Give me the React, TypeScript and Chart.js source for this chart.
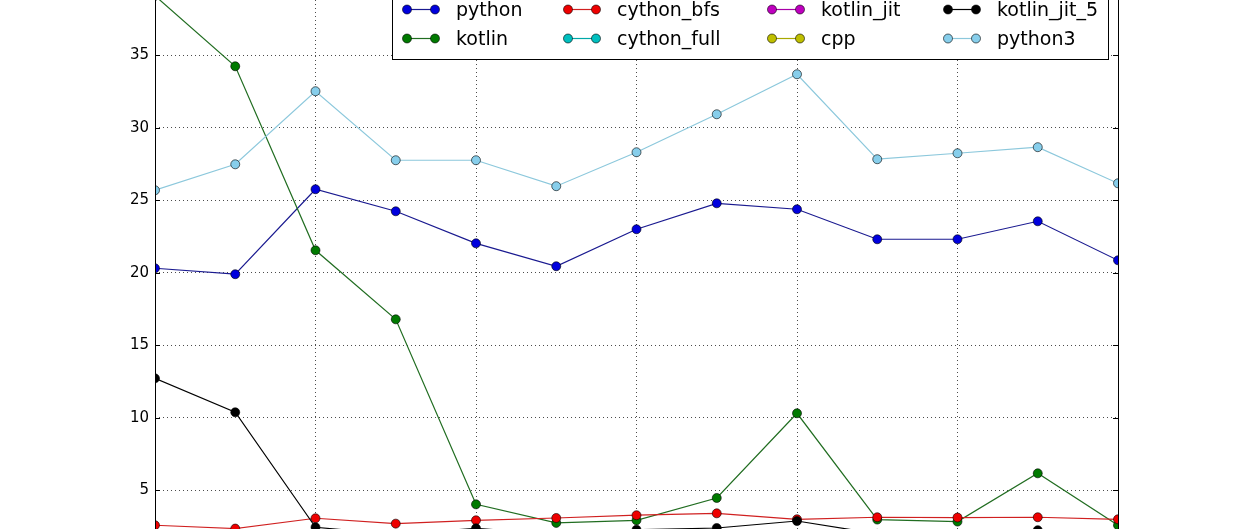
import { useEffect, useRef } from 'react';
import { Chart, registerables } from 'chart.js';
import type { Plugin } from 'chart.js';

Chart.register(...registerables);

// run number on the x axis
const runIndex = [0, 1, 2, 3, 4, 5, 6, 7, 8, 9, 10, 11, 12];
const xTicks = [0, 2, 4, 6, 8, 10, 12];
const yTicks = [5, 10, 15, 20, 25, 30, 35];

const pythonTimes = [20.31, 19.9, 25.76, 24.24, 22.03, 20.45, 23.0, 24.79, 24.38, 22.31, 22.31, 23.55, 20.86];
const kotlinTimes = [39.1, 34.24, 21.55, 16.79, 4.03, 2.75, 2.93, 4.47, 10.31, 2.98, 2.84, 6.17, 2.59];
const cythonBfsTimes = [2.59, 2.36, 3.07, 2.7, 2.93, 3.09, 3.28, 3.41, 3.0, 3.14, 3.12, 3.14, 3.0];
const cythonFullTimes = [1.2, 1.1, 1.3, 1.2, 1.25, 1.3, 1.2, 1.35, 1.3, 1.2, 1.25, 1.3, 1.2];
const kotlinJitTimes = [1.8, 1.6, 1.5, 1.4, 1.5, 1.45, 1.5, 1.6, 1.7, 1.4, 1.45, 1.5, 1.4];
const cppTimes = [0.45, 0.4, 0.42, 0.41, 0.43, 0.42, 0.44, 0.45, 0.43, 0.41, 0.42, 0.43, 0.42];
const kotlinJit5Times = [12.72, 10.38, 2.45, 1.95, 2.38, 1.95, 2.28, 2.4, 2.88, 2.0, 1.95, 2.25, 1.9];
const python3Times = [25.69, 27.48, 32.52, 27.76, 27.76, 25.97, 28.31, 30.93, 33.69, 27.83, 28.24, 28.66, 26.17];

const seriesNames = ['python', 'kotlin', 'cython_bfs', 'cython_full', 'kotlin_jit', 'cpp', 'kotlin_jit_5', 'python3'];
const seriesValues = [
  pythonTimes,
  kotlinTimes,
  cythonBfsTimes,
  cythonFullTimes,
  kotlinJitTimes,
  cppTimes,
  kotlinJit5Times,
  python3Times,
];
const seriesColors = ['#0000dd', '#007a00', '#ee0000', '#00bfbf', '#bf00bf', '#bfbf00', '#000000', '#87ceeb'];
// thin lines read darker than the markers in the original
const lineColors = ['#1a1a90', '#216d21', '#d02020', '#00a8a8', '#a800a8', '#a8a800', '#000000', '#8cc8dc'];

// legend is laid out row by row, 4 columns (matplotlib ncol=4 is column-major)
const legendOrder = [0, 2, 4, 6, 1, 3, 5, 7];
const legendCols = [407, 568, 772, 948];
const legendRows = [9, 38];

const FONT = '"DejaVu Sans", Verdana, sans-serif';

const framePlugin: Plugin<'line'> = {
  id: 'frame',
  afterDraw(chart) {
    const { ctx, chartArea: a } = chart;
    const y = chart.scales.y;
    ctx.save();
    ctx.strokeStyle = '#000';
    ctx.lineWidth = 1;
    ctx.beginPath();
    ctx.moveTo(a.left + 0.5, a.top);
    ctx.lineTo(a.left + 0.5, a.bottom);
    ctx.moveTo(a.right + 0.5, a.top);
    ctx.lineTo(a.right + 0.5, a.bottom);
    // inward tick marks
    yTicks.forEach((v) => {
      const py = Math.round(y.getPixelForValue(v)) + 0.5;
      ctx.moveTo(a.left, py);
      ctx.lineTo(a.left + 5, py);
      ctx.moveTo(a.right, py);
      ctx.lineTo(a.right - 5, py);
    });
    ctx.stroke();

    // legend box
    ctx.fillStyle = '#fff';
    ctx.fillRect(392, -10, 716, 69);
    ctx.strokeRect(392.5, -10, 716, 69.5);
    ctx.font = `19px ${FONT}`;
    ctx.textBaseline = 'alphabetic';
    legendOrder.forEach((si, k) => {
      const cx = legendCols[k % 4];
      const cy = legendRows[Math.floor(k / 4)];
      ctx.strokeStyle = lineColors[si];
      ctx.lineWidth = 1.2;
      ctx.beginPath();
      ctx.moveTo(cx, cy + 0.5);
      ctx.lineTo(cx + 28, cy + 0.5);
      ctx.stroke();
      [cx, cx + 28].forEach((mx) => {
        ctx.beginPath();
        ctx.arc(mx, cy + 0.5, 4.5, 0, Math.PI * 2);
        ctx.fillStyle = seriesColors[si];
        ctx.fill();
        ctx.lineWidth = 0.6;
        ctx.strokeStyle = '#000';
        ctx.stroke();
      });
      ctx.fillStyle = '#000';
      ctx.fillText(seriesNames[si], cx + 49, cy + 7);
    });
    ctx.restore();
  },
};

export default function App() {
  const canvasRef = useRef<HTMLCanvasElement>(null);

  useEffect(() => {
    if (!canvasRef.current) return;
    Chart.getChart(canvasRef.current)?.destroy();
    const chart = new Chart(canvasRef.current, {
      type: 'line',
      data: {
        datasets: seriesNames.map((name, i) => ({
          label: name,
          data: runIndex.map((x, j) => ({ x, y: seriesValues[i][j] })),
          borderColor: lineColors[i],
          backgroundColor: seriesColors[i],
          borderWidth: 1.2,
          pointRadius: 4.5,
          pointBorderColor: '#000',
          pointBorderWidth: 0.6,
          pointBackgroundColor: seriesColors[i],
          tension: 0,
          clip: 0,
          order: seriesNames.length - i,
        })),
      },
      options: {
        animation: false,
        responsive: true,
        maintainAspectRatio: false,
        layout: { autoPadding: false, padding: { left: 0, right: 125, top: 0, bottom: 0 } },
        plugins: {
          legend: { display: false },
          tooltip: { enabled: false },
        },
        scales: {
          x: {
            type: 'linear',
            min: 0,
            max: 12,
            afterBuildTicks: (axis) => {
              axis.ticks = xTicks.map((value) => ({ value }));
            },
            afterFit: (axis) => {
              axis.height = 0;
              axis.paddingLeft = 0;
              axis.paddingRight = 0;
            },
            ticks: { display: false },
            border: { display: false, dash: [1, 3] },
            grid: { color: 'rgba(0,0,0,0.7)', lineWidth: 1, drawTicks: false },
          },
          y: {
            type: 'linear',
            min: 2.33,
            max: 38.81,
            afterBuildTicks: (axis) => {
              axis.ticks = yTicks.map((value) => ({ value }));
            },
            afterFit: (axis) => {
              axis.width = 155;
              axis.paddingTop = 0;
              axis.paddingBottom = 0;
            },
            ticks: {
              color: '#000',
              padding: 6,
              font: { family: FONT, size: 15 },
            },
            border: { display: false, dash: [1, 3] },
            grid: { color: 'rgba(0,0,0,0.7)', lineWidth: 1, drawTicks: false },
          },
        },
      },
      plugins: [framePlugin],
    });
    return () => chart.destroy();
  }, []);

  return (
    <div style={{ position: 'fixed', left: 0, top: 0, width: 1243, height: 529, background: '#fff' }}>
      <canvas ref={canvasRef} />
    </div>
  );
}
